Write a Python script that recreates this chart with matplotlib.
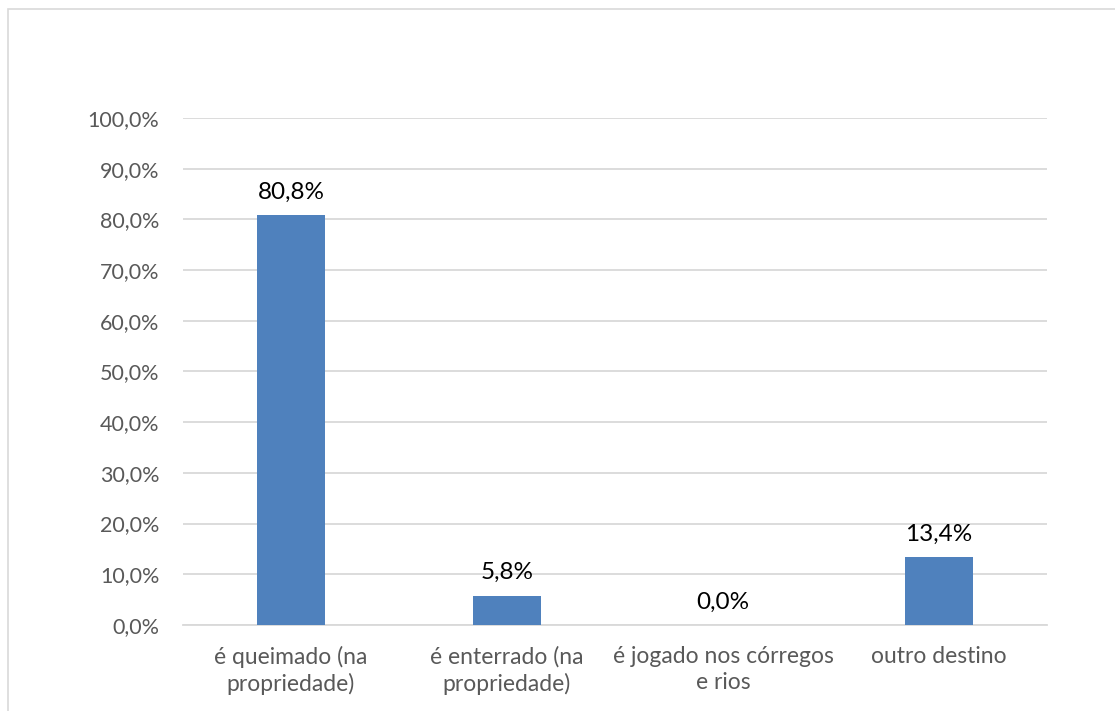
import matplotlib
matplotlib.use("Agg")
import matplotlib.pyplot as plt
from matplotlib.patches import Rectangle

categories = ["é queimado (na\npropriedade)", "é enterrado (na\npropriedade)",
              "é jogado nos córregos\ne rios", "outro destino"]
values = [80.8, 5.8, 0.0, 13.4]
yticks = [0, 10, 20, 30, 40, 50, 60, 70, 80, 90, 100]

plt.rcParams['font.family'] = ['Lato', 'DejaVu Sans']

fig = plt.figure(figsize=(11.15, 7.11), dpi=100)
ax = fig.add_axes([0.1641, 0.1210, 0.9390 - 0.1641, 0.8340 - 0.1210])

# outer chart border
fig.patches.append(Rectangle((8 / 1115, -0.01), 1.02, 1 - 9 / 711 + 0.01,
                             transform=fig.transFigure, fill=False,
                             edgecolor='#D9D9D9', linewidth=1.2))

x = range(len(categories))
ax.bar(x, values, width=0.315, color='#4F81BD', zorder=3)

for xi, v in zip(x, values):
    ax.annotate(f"{v:.1f}%".replace('.', ','), (xi, v), xytext=(0, 9),
                textcoords='offset points', ha='center', va='bottom',
                fontsize=17.5, color='black')

ax.set_xlim(-0.5, len(categories) - 0.5)
ax.set_ylim(0, 100)
ax.set_yticks(yticks)
ax.set_yticklabels([f"{t:.1f}%".replace('.', ',') for t in yticks], fontsize=15.5)
ax.set_xticks(list(x))
ax.set_xticklabels(categories, fontsize=16.5, linespacing=1.3)

ax.grid(axis='y', color='#D9D9D9', linewidth=1.3, zorder=0)
for s in ['top', 'right', 'left']:
    ax.spines[s].set_visible(False)
ax.spines['bottom'].set_color('#D9D9D9')
ax.spines['bottom'].set_linewidth(1.3)
ax.tick_params(axis='both', length=0, colors='#595959')
ax.tick_params(axis='y', pad=17)
ax.tick_params(axis='x', pad=15)

fig.savefig("out.png", dpi=100)
